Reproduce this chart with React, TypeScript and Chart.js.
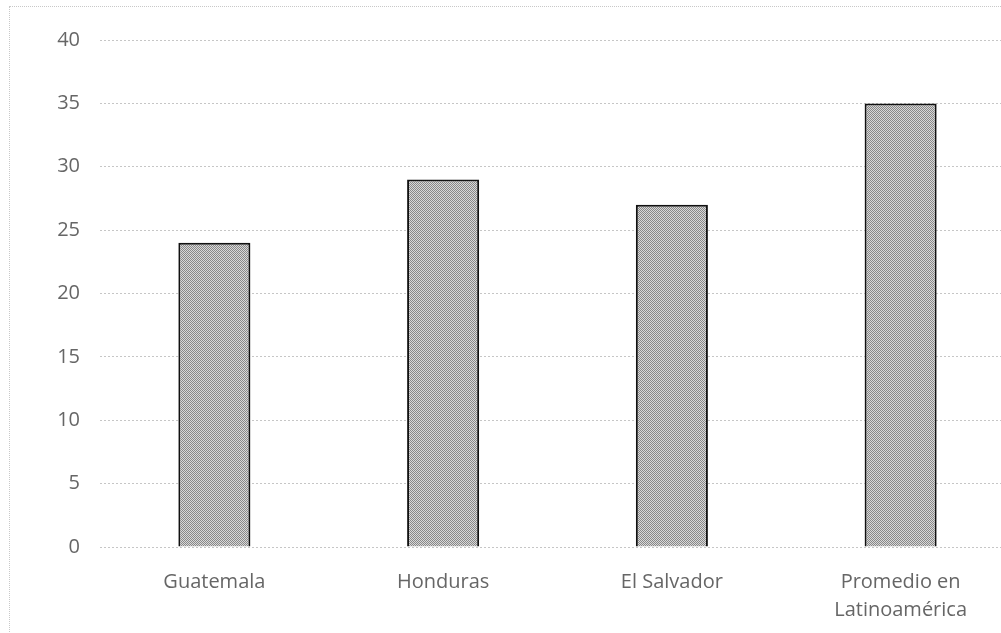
import React, { useEffect, useRef } from "react";
import { Chart, registerables } from "chart.js";

Chart.register(...registerables);

const categories: (string | string[])[] = [
  "Guatemala",
  "Honduras",
  "El Salvador",
  ["Promedio en", "Latinoamérica"],
];
const values: number[] = [24, 29, 27, 35];
const yMin = 0;
const yMax = 40;
const yStep = 5;

const TEXT = "#666666";
const FONT = "'Open Sans', 'Liberation Sans', sans-serif";

// Small dot-screen fill for the bars
function makeHalftone(): CanvasPattern | string {
  const c = document.createElement("canvas");
  c.width = 2;
  c.height = 2;
  const g = c.getContext("2d");
  if (!g) return "#aaaaaa";
  g.fillStyle = "#d8d8d8";
  g.fillRect(0, 0, 2, 2);
  g.fillStyle = "#888888";
  g.fillRect(0, 0, 1, 1);
  g.fillRect(1, 1, 1, 1);
  const p = g.createPattern(c, "repeat");
  return p || "#aaaaaa";
}

export default function App() {
  const ref = useRef<HTMLCanvasElement | null>(null);

  useEffect(() => {
    document.body.style.margin = "0";
    document.body.style.overflow = "hidden";
    const canvas = ref.current;
    if (!canvas) return;
    const chart = new Chart(canvas, {
      type: "bar",
      data: {
        labels: categories,
        datasets: [
          {
            data: values,
            backgroundColor: makeHalftone() as any,
            borderColor: "#111111",
            borderWidth: 2,
            borderSkipped: "bottom",
            barPercentage: 1,
            categoryPercentage: 0.315,
          },
        ],
      },
      options: {
        responsive: false,
        animation: false,
        layout: { padding: { top: 40, right: 15, bottom: 0, left: 0 } },
        plugins: { legend: { display: false }, tooltip: { enabled: false } },
        scales: {
          x: {
            grid: { display: false },
            border: { display: false },
            ticks: {
              color: TEXT,
              font: { family: FONT, size: 20, lineHeight: 1.42 },
              padding: 13,
              maxRotation: 0,
              autoSkip: false,
            },
            afterFit: (s: any) => {
              s.height = 86;
            },
          },
          y: {
            min: yMin,
            max: yMax,
            grid: {
              color: "#c6c6c6",
              lineWidth: 1,
              drawTicks: false,
            },
            border: { display: false, dash: [2, 2] },
            ticks: {
              stepSize: yStep,
              color: TEXT,
              font: { family: FONT, size: 20 },
              padding: 20,
            },
            afterFit: (s: any) => {
              s.width = 100;
            },
          },
        },
      },
    });
    return () => chart.destroy();
  }, []);

  return (
    <div
      style={{
        position: "relative",
        width: 1001,
        height: 633,
        overflow: "hidden",
        background: "#ffffff",
      }}
    >
      <div
        style={{
          position: "absolute",
          left: 9,
          top: 6,
          width: 1100,
          height: 700,
          border: "1px dotted #c8c8c8",
        }}
      />
      <canvas
        ref={ref}
        width={1030}
        height={633}
        style={{ position: "absolute", left: 0, top: 0, width: 1030, height: 633 }}
      />
    </div>
  );
}
